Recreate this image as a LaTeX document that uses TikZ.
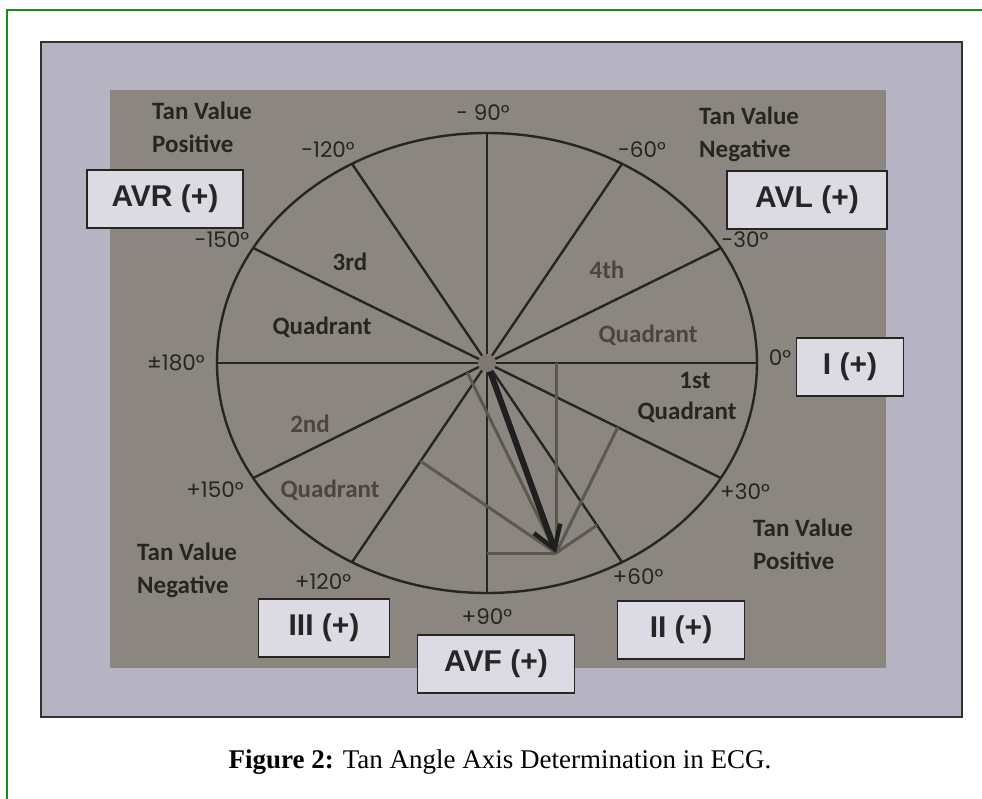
\documentclass[tikz,border=0pt]{standalone}
\usepackage{fontspec}
\setmainfont{Carlito}
\newfontfamily\leadfont{Liberation Sans}
\newfontfamily\degfont{Poppins}
\newfontfamily\capfont{Liberation Serif}
\usetikzlibrary{arrows.meta,calc}

\definecolor{framegreen}{RGB}{28,138,28}
\definecolor{photo}{RGB}{182,180,195}
\definecolor{panel}{RGB}{140,134,129}
\definecolor{boxfill}{RGB}{220,218,226}
\definecolor{ink}{RGB}{40,37,32}
\definecolor{dimink}{RGB}{74,70,60}
\definecolor{projgray}{RGB}{92,88,76}
\definecolor{hubgray}{RGB}{128,120,112}

\begin{document}
\begin{tikzpicture}[x=1pt,y=-1pt]
    \tikzset{
        lead/.style     =   { draw=ink
                            , line width=1.6pt
                            , fill=boxfill
                            , minimum height=58pt
                            , inner sep=0pt
                            , text=black!85
                            , font=\leadfont\bfseries\fontsize{30}{30}\selectfont
                            }
        , deg/.style    =   { inner sep=0pt
                            , text=ink
                            , font=\degfont\fontsize{21.5}{21.5}\selectfont
                            }
        , note/.style   =   { inner sep=0pt
                            , align=left
                            , anchor=west
                            , text=ink
                            , font=\bfseries\fontsize{25}{33}\selectfont
                            }
        , quad/.style   =   { inner sep=0pt
                            , text=ink
                            , font=\bfseries\fontsize{25}{25}\selectfont
                            }
        , quaddim/.style =  { quad
                            , text=dimink
                            }
        , spoke/.style  =   { draw=ink
                            , line width=2.4pt
                            }
        , projline/.style = { draw=projgray
                            , line width=3pt
                            }
        , vector/.style =   { draw=black!88
                            , line width=6pt
                            , shorten <=8pt
                            , -{Straight Barb[length=22pt,width=28pt,line width=4.5pt]}
                            }
    }
    \useasboundingbox[fill=white] (0,0) rectangle (982,799);

    % page frame and photo
    \draw[framegreen, line width=2.8pt] (7,805) -- (7,10) -- (990,10);
    \draw[black!80, line width=1.8pt, fill=photo] (41,42) rectangle (962,717);
    \fill[panel] (110,90) rectangle (886,668);

    % circle with the six axes
    \coordinate (c) at (487,363);
    \coordinate (tip) at (556,553);
    \foreach \a in {0,30,...,330}
        \coordinate (p\a) at ($(c)+(\a:270 and 230)$);
    \foreach \a in {0,30,...,330}
        \draw[spoke] (c) -- (p\a);
    \draw[spoke] (c) ellipse [x radius=270pt, y radius=230pt];

    % projections of the axis vector
    \foreach \a in {0,30,...,150}
        \draw[projline] ($(c)!(tip)!(p\a)$) -- (tip);
    \draw[vector] (c) -- (tip);
    \node(hub)[circle, fill=hubgray, minimum size=18pt, inner sep=0pt] at (c) {};

    % angles
    \node(d0)[deg] at (780,358) {0°};
    \node(dm30)[deg] at (745,240) {-30°};
    \node(dm60)[deg] at (642,150) {-60°};
    \node(dm90)[deg] at (483,113) {- 90°};
    \node(dm120)[deg] at (328,150) {-120°};
    \node(dm150)[deg] at (222,240) {-150°};
    \node(d180)[deg] at (176,363) {±180°};
    \node(d150)[deg] at (215,490) {+150°};
    \node(d120)[deg] at (323,582) {+120°};
    \node(d90)[deg] at (487,617) {+90°};
    \node(d60)[deg] at (638,577) {+60°};
    \node(d30)[deg] at (745,492) {+30°};

    % quadrants
    \node(q3)[quad] at (350,262) {3rd};
    \node(q3b)[quad] at (322,327) {Quadrant};
    \node(q4)[quaddim] at (607,270) {4th};
    \node(q4b)[quaddim] at (648,335) {Quadrant};
    \node(q1)[quad] at (695,380) {1st};
    \node(q1b)[quad] at (687,412) {Quadrant};
    \node(q2)[quaddim] at (310,424) {2nd};
    \node(q2b)[quaddim] at (330,490) {Quadrant};

    % tan notes
    \node(tanul)[note] at (152,127) {Tan Value\\Positive};
    \node(tanur)[note] at (699,134) {Tan Value\\Negative};
    \node(tanll)[note] at (137,570) {Tan Value\\Negative};
    \node(tanlr)[note] at (753,544) {Tan Value\\Positive};

    % leads
    \node(avr)[lead, minimum width=156pt] at (165,199) {AVR (+)};
    \node(avl)[lead, minimum width=160pt] at (807,200) {AVL (+)};
    \node(li)[lead, minimum width=107pt] at (850,367) {I (+)};
    \node(liii)[lead, minimum width=131pt] at (324,628) {III (+)};
    \node(avf)[lead, minimum width=157pt] at (496,664) {AVF (+)};
    \node(lii)[lead, minimum width=127pt] at (681,630) {II (+)};

    % caption
    \node(cap)[inner sep=0pt, font=\capfont\fontsize{27}{27}\selectfont] at (500,762)
        {\textbf{Figure 2:} Tan Angle Axis Determination in ECG.};
\end{tikzpicture}
\end{document}
